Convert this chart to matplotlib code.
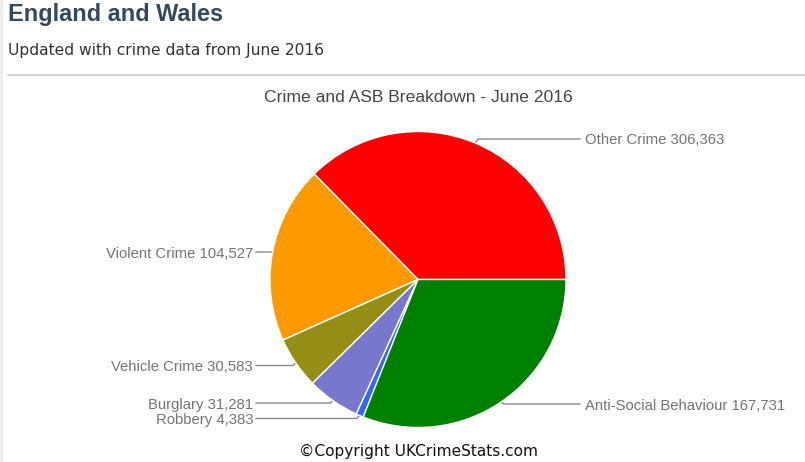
import numpy as np
import matplotlib
matplotlib.use("Agg")
import matplotlib.pyplot as plt

# ---- data ----
categories = ["Other Crime", "Violent Crime", "Vehicle Crime", "Burglary", "Robbery", "Anti-Social Behaviour"]
label_values = [306363, 104527, 30583, 31281, 4383, 167731]
# slice sizes as drawn in the picture (the red slice is drawn smaller than its label)
slice_values = [202000, 104527, 30583, 31281, 4383, 167731]
colors = ["#ff0000", "#ff9900", "#948f14", "#7777cc", "#3366ff", "#008000"]
label_side = ["right", "left", "left", "left", "left", "right"]
label_y_px = [139, 252, 365.5, 403, 418.5, 404]

W, H = 805, 462
fig = plt.figure(figsize=(W / 100, H / 100), dpi=100)
fig.patch.set_facecolor("white")

# overlay axes in pixel coordinates
ov = fig.add_axes([0, 0, 1, 1])
ov.set_xlim(0, W)
ov.set_ylim(H, 0)
ov.axis("off")

# page decoration
ov.add_patch(plt.Rectangle((0, 0), 2.5, H, color="#eeeeee", lw=0))
ov.plot([8, W], [75, 75], color="#cccccc", lw=1.2)
ov.text(8, 15, "England and Wales", fontsize=16.9, fontweight="bold", color="#34495e",
        family="Liberation Sans", va="center", ha="left")
ov.text(8, 50, "Updated with crime data from June 2016", fontsize=11.2, color="#333333",
        family="DejaVu Sans", va="center", ha="left")
ov.text(418, 97, "Crime and ASB Breakdown - June 2016", fontsize=12.6, color="#444444",
        family="Liberation Sans", va="center", ha="center")
ov.text(418.5, 451, "\u00a9Copyright UKCrimeStats.com", fontsize=11.1, color="#111111",
        family="DejaVu Sans", va="center", ha="center")

# pie axes
cx, cy, r = 418, 279.5, 148
pax = fig.add_axes([(cx - r) / W, (H - cy - r) / H, 2 * r / W, 2 * r / H])
wedges, _ = pax.pie(slice_values, colors=colors, startangle=0, counterclock=True,
                    radius=1, wedgeprops=dict(edgecolor="white", linewidth=1.0))
pax.set_xlim(-1, 1)
pax.set_ylim(-1, 1)
pax.set_aspect("equal")
pax.axis("off")

# labels with leader lines
for w, name, val, side, ly in zip(wedges, categories, label_values, label_side, label_y_px):
    mid = np.deg2rad((w.theta1 + w.theta2) / 2)
    ax_x = cx + r * np.cos(mid)
    ax_y = cy - r * np.sin(mid)
    txt = f"{name} {val:,}"
    if side == "right":
        ov.plot([ax_x, ax_x + 3, 580], [ax_y, ly, ly], color="#8a8a8a", lw=1.0)
        ov.text(585, ly + 1.5, txt, fontsize=10.7, color="#747474", family="Liberation Sans",
                ha="left", va="center")
    else:
        ov.plot([ax_x, ax_x - 3, 256], [ax_y, ly, ly], color="#8a8a8a", lw=1.0)
        ov.text(253, ly + 1.5, txt, fontsize=10.7, color="#747474", family="Liberation Sans",
                ha="right", va="center")

fig.savefig("out.png", dpi=100, facecolor="white")
